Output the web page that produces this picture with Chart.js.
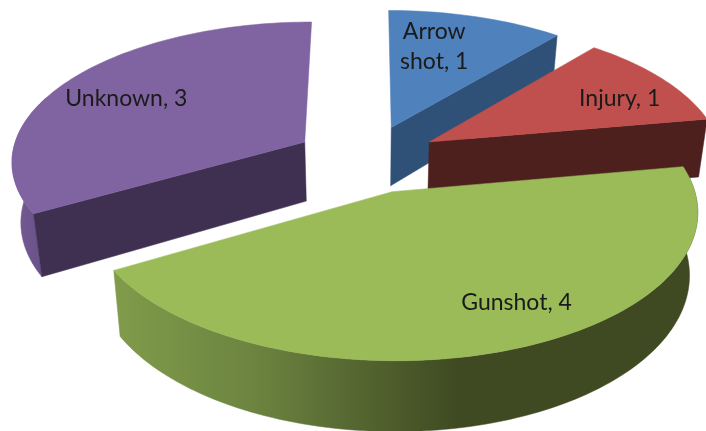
<!DOCTYPE html>
<html>
<head>
<meta charset="utf-8">
<script src="https://cdn.jsdelivr.net/npm/chart.js@4"></script>
<style>html,body{margin:0;padding:0;background:#fff}canvas{display:block}</style>
</head>
<body>
<canvas id="c" width="706" height="431"></canvas>
<script>
const categories = ["Arrow shot", "Injury", "Gunshot", "Unknown"];
const values = [1, 1, 4, 3];
const topColors = ["#4f81bd", "#c0504d", "#9bbb59", "#8064a2"];
const wallColors = ["#2f5178", "#4d1f1d", "#3f4a22", "#3f3051"];
const labelLines = [["Arrow", "shot, 1"], ["Injury, 1"], ["Gunshot, 4"], ["Unknown, 3"]];

const view = {cx: 367, cy: 159, rx: 294, ry: 139, k: 0.125, depth: 60, shrink: 0.975};
const sliceOffsets = [143, 143, 140, 143];
const labelNudge = [[-12, -10], [43, -3], [53, 18], [-31, -3]];

function project(X, Y, low) {
  const w = 1 - view.k * Y;
  const f = low ? view.shrink : 1;
  return {
    x: view.cx + f * X * view.rx / w,
    y: view.cy + Y * view.ry / w + (low ? view.depth / w : 0)
  };
}

const pie3d = {
  id: "pie3d",
  beforeDatasetsDraw(chart) {
    const ctx = chart.ctx;
    const arcs = chart.getDatasetMeta(0).data.map((a, i) => ({a, i}));
    const order = arcs.slice().sort((p, q) =>
      Math.sin((p.a.startAngle + p.a.endAngle) / 2) - Math.sin((q.a.startAngle + q.a.endAngle) / 2));
    order.forEach(({a, i}) => {
      const mid = (a.startAngle + a.endAngle) / 2;
      const e = (a.options.offset / 4) / a.outerRadius;
      const ox = Math.cos(mid) * e, oy = Math.sin(mid) * e;
      const span = a.endAngle - a.startAngle;
      const steps = Math.max(12, Math.round(span * 40));
      const rim = [];
      for (let s = 0; s <= steps; s++) {
        const t = a.startAngle + span * s / steps;
        const sn = Math.sin(t), cs = Math.cos(t);
        rim.push({X: ox + cs, Y: oy + sn, front: sn > -0.12 || (cs < 0 && sn > -0.35)});
      }
      const poly = (pts) => {
        ctx.beginPath();
        pts.forEach((p, n) => n ? ctx.lineTo(p.x, p.y) : ctx.moveTo(p.x, p.y));
        ctx.closePath();
      };
      const apexT = project(ox, oy, false), apexB = project(ox, oy, true);
      const top = rim.map(r => project(r.X, r.Y, false));
      ctx.lineWidth = 0.5;
      let wallFill = wallColors[i];
      if (categories[i] === "Gunshot") {
        const g = ctx.createLinearGradient(view.cx - 280, 0, view.cx + 90, 0);
        g.addColorStop(0, "#84a04c");
        g.addColorStop(0.45, "#6c8440");
        g.addColorStop(1, "#3f4a22");
        wallFill = g;
      } else if (categories[i] === "Unknown") {
        const g = ctx.createLinearGradient(0, 0, view.cx - 300, 0);
        g.addColorStop(0, "#7a5f9b");
        g.addColorStop(1, "#5f4a7c");
        wallFill = g;
      }
      const front = rim.filter(r => r.front);
      if (front.length > 1) {
        ctx.fillStyle = wallFill;
        ctx.strokeStyle = wallFill;
        poly(front.map(r => project(r.X, r.Y, false))
          .concat(front.slice().reverse().map(r => project(r.X, r.Y, true))));
        ctx.fill(); ctx.stroke();
      }
      ctx.fillStyle = wallColors[i];
      ctx.strokeStyle = wallColors[i];
      [[rim[0], -Math.cos(a.startAngle)], [rim[rim.length - 1], Math.cos(a.endAngle)]].forEach(([r, facing]) => {
        if (facing < 0.01) return;
        poly([apexT, project(r.X, r.Y, false), project(r.X, r.Y, true), apexB]);
        ctx.fill(); ctx.stroke();
      });
      ctx.fillStyle = a.options.backgroundColor;
      ctx.strokeStyle = a.options.backgroundColor;
      poly([apexT].concat(top));
      ctx.fill(); ctx.stroke();
    });
    ctx.fillStyle = "#1a1a1a";
    ctx.font = "23px Lato";
    ctx.textAlign = "center";
    ctx.textBaseline = "middle";
    arcs.forEach(({a, i}) => {
      const mid = (a.startAngle + a.endAngle) / 2;
      const e = (a.options.offset / 4) / a.outerRadius;
      const p = project(Math.cos(mid) * (e + 0.62), Math.sin(mid) * (e + 0.62), false);
      const lines = labelLines[i];
      lines.forEach((t, n) => {
        ctx.fillText(t, p.x + labelNudge[i][0], p.y + labelNudge[i][1] + (n - (lines.length - 1) / 2) * 30);
      });
    });
    return false;
  }
};

new Chart(document.getElementById("c"), {
  type: "pie",
  data: {labels: categories, datasets: [{data: values, backgroundColor: topColors, borderWidth: 0, offset: sliceOffsets}]},
  options: {
    responsive: false,
    animation: false,
    layout: {padding: 0},
    plugins: {legend: {display: false}, tooltip: {enabled: false}}
  },
  plugins: [pie3d]
});
</script>
</body>
</html>
